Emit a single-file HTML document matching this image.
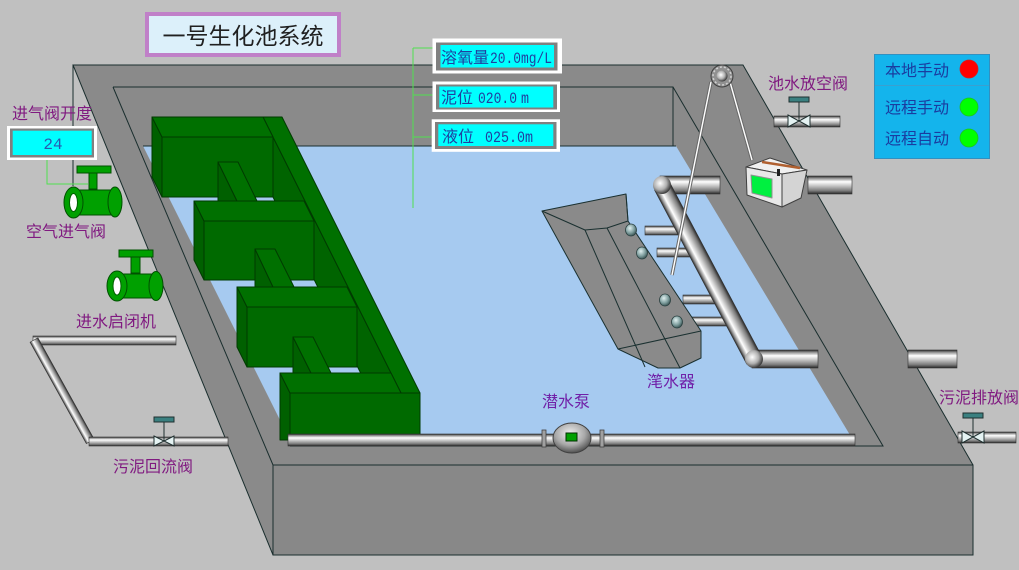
<!DOCTYPE html>
<html><head><meta charset="utf-8">
<style>
html,body{margin:0;padding:0;background:#c0c0c0;}
svg{display:block;}
text{font-family:"Liberation Sans","Noto Sans CJK SC",sans-serif;}
.lb{font-size:16px;fill:#801a80;}
.lv{font-size:16px;fill:#7020a8;}
.st{font-size:16px;fill:#1a3ca0;}
.dt{font-size:16px;fill:#2040a0;}
.mn{font-family:"Liberation Mono",monospace;font-size:16px;}
</style></head><body>
<svg width="1019" height="570" viewBox="0 0 1019 570" xmlns="http://www.w3.org/2000/svg">
<defs>
<linearGradient id="pg" x1="0" y1="0" x2="0" y2="1">
<stop offset="0" stop-color="#262626"/>
<stop offset="0.12" stop-color="#8c8c8c"/>
<stop offset="0.32" stop-color="#ffffff"/>
<stop offset="0.55" stop-color="#c4c4c4"/>
<stop offset="0.82" stop-color="#7a7a7a"/>
<stop offset="1" stop-color="#262626"/>
</linearGradient>
<linearGradient id="pgr" x1="0" y1="1" x2="0" y2="0">
<stop offset="0" stop-color="#262626"/>
<stop offset="0.12" stop-color="#8c8c8c"/>
<stop offset="0.32" stop-color="#ffffff"/>
<stop offset="0.55" stop-color="#c4c4c4"/>
<stop offset="0.82" stop-color="#7a7a7a"/>
<stop offset="1" stop-color="#262626"/>
</linearGradient>
<radialGradient id="elb" cx="0.4" cy="0.4" r="0.6">
<stop offset="0" stop-color="#ffffff"/>
<stop offset="0.6" stop-color="#b0b0b0"/>
<stop offset="1" stop-color="#404040"/>
</radialGradient>
<radialGradient id="pump" cx="0.45" cy="0.35" r="0.65">
<stop offset="0" stop-color="#f0f0f0"/>
<stop offset="0.6" stop-color="#a8a8a8"/>
<stop offset="1" stop-color="#505050"/>
</radialGradient>
<radialGradient id="noz" cx="0.4" cy="0.35" r="0.7">
<stop offset="0" stop-color="#e0f0f0"/>
<stop offset="0.6" stop-color="#7a9a9a"/>
<stop offset="1" stop-color="#304848"/>
</radialGradient>
</defs>

<rect width="1019" height="570" fill="#c0c0c0"/>

<!-- pool walls -->
<polygon points="73,65 743,65 973,465 973,555 273,555" fill="#8a8a8a" stroke="#1a2e2e" stroke-width="1"/>
<rect x="273" y="465" width="700" height="90" fill="#888888" stroke="#1a2e2e" stroke-width="1"/>
<line x1="73" y1="65" x2="73" y2="186" stroke="#1a2e2e" stroke-width="1"/>
<line x1="113" y1="87" x2="273" y2="465" stroke="#1a2e2e" stroke-width="1"/>
<polyline points="113,87 673,87 883,446 290,446" fill="none" stroke="#1a2e2e" stroke-width="1"/>
<line x1="673" y1="87" x2="673" y2="146" stroke="#1a2e2e" stroke-width="1"/>

<!-- water -->
<polygon points="143,146 676,146 853,440 290,440" fill="#a6caf0"/>
<line x1="143" y1="146" x2="676" y2="146" stroke="#1a2e2e" stroke-width="1"/>

<!-- green structure: spine -->
<g stroke="#003a00" stroke-width="1" stroke-linejoin="round">
<polygon points="263,117 401,393 401,440 394,440 263,177" fill="#006400"/>
<polygon points="263,117 282,117 420,393 401,393" fill="#007000"/>
<rect x="401" y="393" width="19" height="47" fill="#006800"/>
<!-- block 1 -->
<polygon points="152,117 162,137 162,197 152,177" fill="#006000"/>
<polygon points="152,117 263,117 273,137 162,137" fill="#007000"/>
<rect x="162" y="137" width="111" height="60" fill="#006a00"/>
<!-- strut 1 -->
<polygon points="218,162 237,201 218,201" fill="#006000"/>
<polygon points="218,162 238,162 257,201 237,201" fill="#007000"/>
<!-- block 2 -->
<polygon points="194,201 204,221 204,280 194,260" fill="#006000"/>
<polygon points="194,201 304,201 314,221 204,221" fill="#007000"/>
<rect x="204" y="221" width="110" height="59" fill="#006a00"/>
<!-- strut 2 -->
<polygon points="255,249 273,287 255,287" fill="#006000"/>
<polygon points="255,249 275,249 294,287 273,287" fill="#007000"/>
<!-- block 3 -->
<polygon points="237,287 247,307 247,367 237,347" fill="#006000"/>
<polygon points="237,287 347,287 357,307 247,307" fill="#007000"/>
<rect x="247" y="307" width="110" height="60" fill="#006a00"/>
<!-- strut 3 -->
<polygon points="293,337 311,373 293,373" fill="#006000"/>
<polygon points="293,337 313,337 331,373 311,373" fill="#007000"/>
<!-- block 4 -->
<polygon points="280,373 290,393 290,440 280,440" fill="#006000"/>
<polygon points="280,373 391,373 401,393 290,393" fill="#007000"/>
<rect x="290" y="393" width="130" height="47" fill="#006a00"/>
</g>

<!-- bottom pipe -->
<rect x="288" y="434" width="567" height="12" fill="url(#pg)" stroke="#333" stroke-width="0.6"/>
<!-- pump -->
<rect x="542" y="430" width="4" height="17" fill="#a0a0a0" stroke="#404040" stroke-width="0.8"/>
<rect x="600" y="430" width="4" height="17" fill="#a0a0a0" stroke="#404040" stroke-width="0.8"/>
<ellipse cx="572" cy="438" rx="19" ry="15" fill="url(#pump)" stroke="#404040" stroke-width="1"/>
<rect x="566" y="433" width="11" height="8" fill="#00a000" stroke="#003000" stroke-width="1"/>

<!-- aerator pipes -->
<rect x="645" y="226" width="33" height="9" fill="url(#pg)" stroke="#333" stroke-width="0.6"/>
<rect x="657" y="248" width="33" height="9" fill="url(#pg)" stroke="#333" stroke-width="0.6"/>
<rect x="683" y="295" width="33" height="9" fill="url(#pg)" stroke="#333" stroke-width="0.6"/>
<rect x="692" y="317" width="36" height="9" fill="url(#pg)" stroke="#333" stroke-width="0.6"/>
<rect x="660" y="176" width="60" height="18" fill="url(#pg)" stroke="#333" stroke-width="0.6"/>
<rect x="752" y="350" width="66" height="18" fill="url(#pg)" stroke="#333" stroke-width="0.6"/>
<g transform="translate(662,186) rotate(62.1)">
<rect x="0" y="-8.5" width="197" height="17" fill="url(#pgr)" stroke="#333" stroke-width="0.6"/>
</g>
<circle cx="662" cy="185" r="9" fill="url(#elb)"/>
<circle cx="754" cy="359" r="9" fill="url(#elb)"/>

<!-- aerator body (decanter) -->
<g stroke="#1a3030" stroke-width="1" stroke-linejoin="round">
<polygon points="542,211 626,194 628,221 701,331 701,358 680,368 658,368 618,349" fill="#8a8a8a"/>
<polyline points="542,211 585,230 607,228 628,221" fill="none"/>
<line x1="626" y1="194" x2="628" y2="221"/>
<line x1="585" y1="230" x2="645" y2="367"/>
<line x1="607" y1="228" x2="680" y2="368"/>
<line x1="618" y1="349" x2="701" y2="331"/>
</g>
<ellipse cx="631" cy="230" rx="5.5" ry="6" fill="url(#noz)" stroke="#2a4040" stroke-width="0.8"/>
<ellipse cx="642" cy="253" rx="5.5" ry="6" fill="url(#noz)" stroke="#2a4040" stroke-width="0.8"/>
<ellipse cx="665" cy="300" rx="5.5" ry="6" fill="url(#noz)" stroke="#2a4040" stroke-width="0.8"/>
<ellipse cx="677" cy="322" rx="5.5" ry="6" fill="url(#noz)" stroke="#2a4040" stroke-width="0.8"/>

<!-- outside pipes -->
<rect x="808" y="176" width="44" height="18" fill="url(#pg)" stroke="#333" stroke-width="0.6"/>
<rect x="908" y="350" width="49" height="18" fill="url(#pg)" stroke="#333" stroke-width="0.6"/>
<rect x="774" y="116" width="66" height="11" fill="url(#pg)" stroke="#333" stroke-width="0.6"/>
<rect x="958" y="432" width="58" height="11" fill="url(#pg)" stroke="#333" stroke-width="0.6"/>

<!-- sludge return pipe -->
<rect x="33" y="336" width="143" height="9" fill="url(#pg)" stroke="#333" stroke-width="0.6"/>
<g transform="translate(34,340) rotate(61)">
<rect x="0" y="-4.5" width="116" height="9" fill="url(#pgr)" stroke="#333" stroke-width="0.6"/>
</g>
<rect x="89" y="437" width="139" height="9" fill="url(#pg)" stroke="#333" stroke-width="0.6"/>

<!-- valves (bowtie) -->
<g stroke="#203030" stroke-width="1">
<line x1="164" y1="421" x2="164" y2="441"/>
<rect x="154" y="417" width="20" height="5" fill="#3a8080"/>
<polygon points="154,436 164,441 154,446" fill="#e4f2f2"/>
<polygon points="174,436 164,441 174,446" fill="#e4f2f2"/>
<line x1="799" y1="101" x2="799" y2="121"/>
<rect x="789" y="97" width="20" height="5" fill="#3a8080"/>
<polygon points="788,115 799,121 788,127" fill="#e4f2f2"/>
<polygon points="810,115 799,121 810,127" fill="#e4f2f2"/>
<line x1="973" y1="417" x2="973" y2="437"/>
<rect x="963" y="413" width="20" height="5" fill="#3a8080"/>
<polygon points="962,431 973,437 962,443" fill="#e4f2f2"/>
<polygon points="984,431 973,437 984,443" fill="#e4f2f2"/>
</g>

<!-- cables and pulley -->
<line x1="711" y1="82" x2="672" y2="275" stroke="#6a6a6a" stroke-width="3.5"/>
<line x1="711" y1="82" x2="672" y2="275" stroke="#ffffff" stroke-width="1.4"/>
<line x1="730" y1="82" x2="752" y2="160" stroke="#6a6a6a" stroke-width="3.5"/>
<line x1="730" y1="82" x2="752" y2="160" stroke="#ffffff" stroke-width="1.4"/>
<circle cx="722" cy="76" r="11" fill="#909090" stroke="#404040" stroke-width="1"/>
<circle cx="722" cy="76" r="9" fill="none" stroke="#d0d0d0" stroke-width="1.5" stroke-dasharray="2 2"/>
<circle cx="722" cy="76" r="5.5" fill="url(#elb)"/>

<!-- control box -->
<g stroke="#404040" stroke-width="1" stroke-linejoin="round">
<polygon points="746,167 770,158 807,170 782,174" fill="#f0f0f0"/>
<polygon points="746,167 782,174 782,207 747,195" fill="#e8e8e8"/>
<polygon points="782,174 807,170 801,198 782,207" fill="#d4d4d4"/>
<polygon points="751,175 772,179 772,198 752,193" fill="#00f040" stroke="#909090"/>
</g>
<line x1="762" y1="162" x2="800" y2="168" stroke="#b06030" stroke-width="2.5"/>
<rect x="777" y="169" width="3" height="7" fill="#202020"/>

<!-- green inlet valves -->
<g stroke="#005000" stroke-width="1">
<rect x="77" y="166" width="34" height="7" fill="#00a000"/>
<rect x="89" y="173" width="8" height="16" fill="#00a000"/>
<rect x="73" y="190" width="42" height="25" fill="#00a000"/>
<ellipse cx="115" cy="202" rx="7" ry="15" fill="#00a000"/>
<ellipse cx="73.5" cy="202.5" rx="9.5" ry="15.5" fill="#00a000"/>
<ellipse cx="73.5" cy="202.5" rx="4" ry="9" fill="#ffffff" stroke="#006000"/>
<rect x="119" y="250" width="34" height="7" fill="#00a000"/>
<rect x="131" y="257" width="9" height="16" fill="#00a000"/>
<rect x="117" y="274" width="40" height="24" fill="#00a000"/>
<ellipse cx="156" cy="286" rx="7" ry="14.5" fill="#00a000"/>
<ellipse cx="117" cy="286" rx="10" ry="15" fill="#00a000"/>
<ellipse cx="117" cy="286" rx="4" ry="9" fill="#ffffff" stroke="#006000"/>
</g>

<!-- green connector lines -->
<polyline points="47,160 47,184 88,184" fill="none" stroke="#50e050" stroke-width="1"/>
<line x1="413" y1="48" x2="413" y2="208" stroke="#50e050" stroke-width="1"/>
<line x1="413" y1="48" x2="433" y2="48" stroke="#50e050" stroke-width="1"/>
<line x1="413" y1="95" x2="433" y2="95" stroke="#50e050" stroke-width="1"/>
<line x1="413" y1="137" x2="432" y2="137" stroke="#50e050" stroke-width="1"/>

<!-- title -->
<rect x="147" y="14" width="192" height="41" fill="#dcf0fa" stroke="#c080c8" stroke-width="4"/>
<text x="243" y="44" text-anchor="middle" style="font-size:23px;fill:#202020;">一号生化池系统</text>

<!-- input box 24 -->
<rect x="7" y="126" width="90" height="34" fill="#ffffff"/>
<rect x="10" y="128.5" width="84" height="29" fill="#808080"/>
<rect x="12.7" y="130.7" width="79" height="24.3" fill="#00ffff"/>
<text x="53" y="149" text-anchor="middle" style="font-family:'Liberation Mono',monospace;font-size:16px;fill:#2858b0;">24</text>

<!-- data boxes -->
<rect x="432.5" y="38.5" width="129.5" height="35" fill="#ffffff"/>
<rect x="436" y="42.5" width="121.5" height="28" fill="#808080"/>
<rect x="440.5" y="45" width="113.5" height="22.5" fill="#00ffff"/>
<text class="dt" x="441" y="63">溶氧量</text>
<text class="dt mn" x="490" y="63" textLength="62" lengthAdjust="spacingAndGlyphs">20.0mg/L</text>

<rect x="432.5" y="81.5" width="127.5" height="30.5" fill="#ffffff"/>
<rect x="436" y="84.5" width="121" height="25" fill="#808080"/>
<rect x="439.3" y="86.5" width="114" height="21" fill="#00ffff"/>
<text class="dt" x="441" y="103">泥位</text>
<text class="dt mn" x="478" y="103" textLength="39" lengthAdjust="spacingAndGlyphs">020.0</text>
<text class="dt mn" x="521" y="103" textLength="8" lengthAdjust="spacingAndGlyphs">m</text>

<rect x="431.7" y="119.3" width="128.3" height="32.5" fill="#ffffff"/>
<rect x="435" y="122" width="121.5" height="27" fill="#808080"/>
<rect x="438.3" y="124.3" width="115" height="21.7" fill="#00ffff"/>
<text class="dt" x="442" y="142">液位</text>
<text class="dt mn" x="485" y="142" textLength="48" lengthAdjust="spacingAndGlyphs">025.0m</text>

<!-- status panel -->
<rect x="874.5" y="54.5" width="115" height="104" fill="#14b4ec" stroke="#3290c0" stroke-width="1"/>
<line x1="875" y1="85.5" x2="989" y2="85.5" stroke="#3aa0d0" stroke-width="1"/>
<text class="st" x="885" y="76">本地手动</text>
<text class="st" x="885" y="113">远程手动</text>
<text class="st" x="885" y="144">远程自动</text>
<circle cx="969" cy="69" r="9" fill="#ff0000" stroke="#d02020" stroke-width="0.8"/>
<circle cx="969" cy="107" r="9" fill="#00ff00" stroke="#20c020" stroke-width="0.8"/>
<circle cx="969" cy="138" r="9" fill="#00ff00" stroke="#20c020" stroke-width="0.8"/>

<!-- labels -->
<text class="lb" x="12" y="119">进气阀开度</text>
<text class="lb" x="26" y="237">空气进气阀</text>
<text class="lb" x="76" y="327">进水启闭机</text>
<text class="lb" x="113" y="472">污泥回流阀</text>
<text class="lv" x="542" y="407">潜水泵</text>
<text class="lv" x="647" y="387">滗水器</text>
<text class="lb" x="768" y="89">池水放空阀</text>
<text class="lb" x="939" y="403">污泥排放阀</text>
</svg>
</body></html>
